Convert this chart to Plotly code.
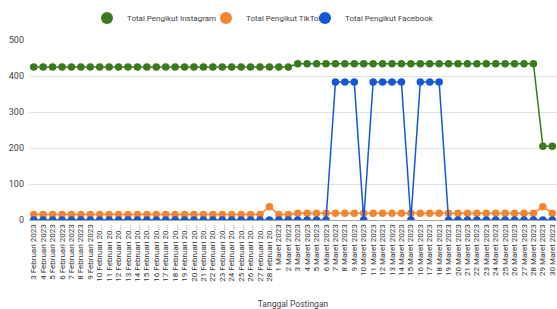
import plotly.graph_objects as go

feb_days = list(range(3, 29))
mar_days = list(range(1, 31))
dates = [f"{d} Februari 2023" for d in feb_days] + [f"{d} Maret 2023" for d in mar_days]


def short(s, n=15):
    return s if len(s) <= n else s[:14] + "..."


tick_labels = [short(s) for s in dates]

instagram = [425] * 28 + [434] * 26 + [205, 205]
tiktok = [15] * 25 + [37] + [15, 15] + [19] * 26 + [37, 19]
facebook = ([0] * 32 + [383, 383, 383] + [0] + [383, 383, 383, 383] + [0]
            + [383, 383, 383] + [0] * 12)

series = [
    ("Total Pengikut Instagram", instagram, "#3a7b1f"),
    ("Total Pengikut TikTok", tiktok, "#f4852f"),
    ("Total Pengikut Facebook", facebook, "#1558d6"),
]
legend_ids = ["legend", "legend2", "legend3"]
legend_x_px = [87, 206, 305]

fig = go.Figure()
for name, vals, col in series:
    fig.add_trace(go.Scatter(
        x=dates, y=vals, mode="lines+markers", name=name,
        line=dict(color=col, width=1.5),
        marker=dict(color=col, size=7.5),
        showlegend=False,
    ))
for (name, vals, col), lid in zip(series, legend_ids):
    fig.add_trace(go.Scatter(
        x=[None], y=[None], mode="markers", name=name,
        marker=dict(color=col, size=10), legend=lid,
    ))

W, H = 557, 309
leg_common = dict(orientation="h", xanchor="left", yanchor="middle",
                  xref="container", yref="container", y=1 - 18 / H,
                  font=dict(size=8, color="#444"), itemsizing="constant",
                  itemwidth=30, bgcolor="rgba(0,0,0,0)", borderwidth=0)
legs = {}
for lid, px in zip(legend_ids, legend_x_px):
    legs[lid] = dict(leg_common, x=px / W)

fig.update_layout(
    width=W, height=H,
    margin=dict(l=29, r=0, t=40, b=89, autoexpand=False),
    paper_bgcolor="white", plot_bgcolor="white",
    font=dict(family="Roboto, Open Sans, sans-serif", color="#444"),
    xaxis=dict(
        type="category", tickmode="array", tickvals=dates, ticktext=tick_labels,
        tickangle=-90, tickfont=dict(size=8, color="#333"), showgrid=False,
        showline=True, linecolor="#a8a8a8", linewidth=1, ticks="", layer="below traces",
        title=dict(text="Tanggal Postingan", font=dict(size=8.5, color="#444"), standoff=22),
        range=[-0.5, len(dates) - 0.5], automargin=False,
    ),
    yaxis=dict(
        range=[0, 500], tickvals=[0, 100, 200, 300, 400, 500],
        tickfont=dict(size=9, color="#444"), gridcolor="#e3e3e3", gridwidth=1,
        zeroline=False, ticks="", ticklabelstandoff=4, automargin=False,
    ),
    **legs,
)

fig.write_html("out.html", config={"displayModeBar": False},
               post_script="document.body.style.margin='0';")
